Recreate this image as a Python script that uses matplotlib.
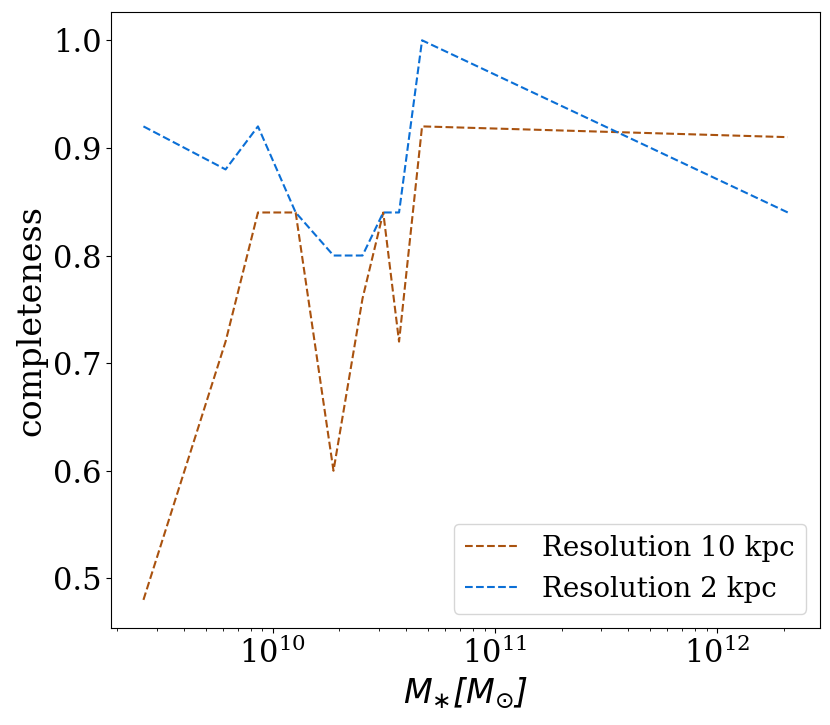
import matplotlib
matplotlib.use("Agg")
import matplotlib.pyplot as plt
import numpy as np

plt.rcParams['font.family'] = 'DejaVu Serif'
plt.rcParams['mathtext.fontset'] = 'custom'
plt.rcParams['mathtext.rm'] = 'DejaVu Sans:italic'
plt.rcParams['mathtext.it'] = 'DejaVu Sans:italic'

# stellar mass bins (Msun)
mass = [2.62e9, 6.14e9, 8.59e9, 1.27e10, 1.88e10, 2.54e10, 3.15e10, 3.71e10, 4.71e10, 2.09e12]
comp_10kpc = [0.48, 0.72, 0.84, 0.84, 0.60, 0.76, 0.84, 0.72, 0.92, 0.91]
comp_2kpc = [0.92, 0.88, 0.92, 0.84, 0.80, 0.80, 0.84, 0.84, 1.00, 0.84]

fig = plt.figure(figsize=(8.3, 7.25), dpi=100)
ax = fig.add_subplot(111)
fig.subplots_adjust(left=0.134, right=0.988, top=0.983, bottom=0.134)

ax.plot(mass, comp_10kpc, "--", color="#a9520f", lw=1.5, label="Resolution 10 kpc")
ax.plot(mass, comp_2kpc, "--", color="#0b6fd6", lw=1.5, label="Resolution 2 kpc")
ax.set_xscale("log")

ax.set_xlabel(r"$M_{\ast}[M_{\odot}]$", fontsize=24)
ax.set_ylabel("completeness", fontsize=24)
ax.tick_params(labelsize=22)
ax.legend(fontsize=20, loc="lower right")

fig.savefig("out.png", dpi=100)
